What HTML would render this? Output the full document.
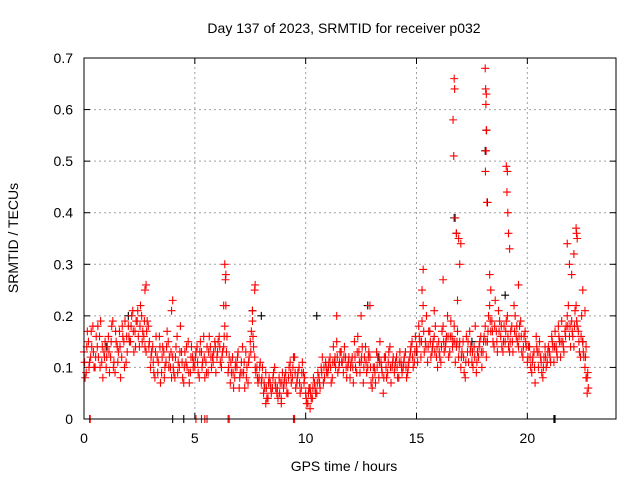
<!DOCTYPE html>
<html><head><meta charset="utf-8"><style>
body{margin:0;background:#fff}
svg{display:block;font-family:"Liberation Sans",sans-serif}
</style></head><body>
<svg id="chart" width="640" height="480">
<rect width="640" height="480" fill="#fff"/>
<text x="344" y="33" text-anchor="middle" font-size="14">Day 137 of 2023, SRMTID for receiver p032</text>
<text x="344" y="471" text-anchor="middle" font-size="14">GPS time / hours</text>
<text x="18" y="238" text-anchor="middle" font-size="14" transform="rotate(-90 18 238)">SRMTID / TECUs</text>
<g id="grid"></g>
<g id="ticks"></g>
<g id="marks"></g>
<rect x="84" y="58" width="532" height="361" fill="none" stroke="#000" stroke-width="1"/>
</svg>
<script>
const xTicks=[0,5,10,15,20];
const yTicks=[0,0.1,0.2,0.3,0.4,0.5,0.6,0.7];
const yTickLabels=["0","0.1","0.2","0.3","0.4","0.5","0.6","0.7"];
const seriesA=[.13,.09,.15,.12,.18,.10,.14,.16,.11,.13,
.10,.16,.12,.19,.09,.14,.17,.12,.15,.11,
.18,.15,.21,.17,.19,.14,.20,.16,.13,.18,
.10,.14,.08,.12,.16,.09,.13,.11,.15,.10,
.12,.08,.16,.10,.13,.07,.11,.15,.09,.12,
.10,.14,.08,.13,.16,.11,.09,.14,.12,.15,
.12,.16,.10,.14,.22,.09,.07,.12,.08,.10,
.06,.11,.09,.13,.07,.15,.19,.12,.10,.08,
.07,.05,.09,.04,.07,.06,.10,.05,.08,.04,
.06,.09,.05,.11,.08,.12,.07,.10,.06,.09,
.05,.03,.06,.04,.07,.05,.08,.10,.07,.11,
.09,.12,.08,.11,.15,.10,.13,.09,.12,.10,
.08,.12,.15,.09,.13,.11,.07,.14,.10,.12,
.06,.10,.13,.08,.11,.05,.12,.09,.14,.10,
.09,.12,.08,.11,.10,.13,.09,.12,.15,.11,
.14,.18,.12,.22,.15,.11,.17,.13,.16,.12,
.15,.11,.18,.14,.20,.13,.16,.18,.14,.12,
.10,.15,.08,.13,.17,.11,.14,.09,.12,.16,
.13,.18,.15,.22,.19,.14,.17,.21,.16,.13,
.15,.20,.13,.18,.22,.16,.14,.19,.12,.17,
.11,.14,.09,.13,.16,.10,.12,.08,.14,.11,
.13,.16,.11,.14,.18,.12,.15,.17,.20,.16,
.19,.14,.22,.17,.12,.15,.10,.08];
const seriesB=[.08,.17,.11,.14,.10,.16,.12,.19,.08,.15,
.14,.09,.18,.11,.15,.13,.08,.16,.19,.13,
.15,.20,.13,.19,.16,.22,.17,.14,.19,.15,
.13,.09,.16,.11,.07,.14,.10,.17,.12,.08,
.09,.14,.11,.18,.08,.13,.10,.07,.14,.11,
.13,.09,.15,.11,.08,.14,.16,.10,.13,.09,
.15,.11,.13,.18,.16,.12,.09,.06,.11,.13,
.09,.14,.06,.10,.12,.17,.14,.09,.07,.11,
.10,.06,.04,.08,.05,.09,.06,.04,.07,.09,
.08,.05,.10,.07,.12,.06,.09,.05,.11,.08,
.03,.06,.04,.08,.05,.09,.06,.12,.08,.09,
.11,.07,.14,.10,.09,.13,.11,.14,.08,.12,
.11,.07,.10,.16,.09,.14,.12,.09,.13,.07,
.10,.07,.12,.15,.09,.12,.08,.13,.07,.12,
.11,.08,.13,.09,.12,.08,.11,.14,.10,.16,
.11,.15,.19,.13,.20,.17,.12,.15,.18,.10,
.12,.17,.13,.16,.12,.19,.15,.11,.17,.15,
.13,.09,.16,.11,.14,.10,.18,.13,.15,.10,
.16,.12,.20,.17,.15,.23,.13,.19,.14,.18,
.19,.14,.17,.13,.20,.15,.18,.13,.16,.14,
.14,.10,.12,.07,.13,.15,.09,.12,.10,.14,
.11,.14,.17,.12,.15,.19,.13,.18,.22,.14,
.16,.21,.18,.13,.20,.12,.14,.06];
const seriesC=[.11,.14,.10,.17,.13,.12,.18,.10,.14,.12,
.12,.13,.15,.10,.17,.11,.14,.18,.10,.16,
.16,.18,.17,.14,.21,.18,.15,.19,.17,.14,
.12,.11,.13,.09,.14,.12,.08,.14,.10,.13,
.10,.12,.09,.13,.11,.10,.14,.09,.12,.10,
.12,.11,.13,.10,.12,.09,.13,.12,.11,.14,
.13,.14,.12,.16,.13,.10,.11,.09,.10,.12,
.08,.09,.11,.08,.11,.13,.16,.10,.08,.10,
.08,.07,.06,.07,.06,.08,.07,.06,.05,.07,
.07,.07,.08,.09,.10,.09,.08,.07,.09,.07,
.04,.05,.05,.06,.06,.07,.07,.09,.10,.10,
.10,.10,.11,.12,.12,.11,.11,.12,.10,.11,
.10,.10,.12,.13,.11,.12,.10,.11,.12,.10,
.08,.09,.10,.11,.10,.08,.10,.11,.10,.11,
.10,.10,.11,.10,.11,.10,.10,.13,.12,.13,
.13,.16,.15,.17,.14,.14,.15,.14,.13,.14,
.13,.14,.15,.15,.16,.16,.14,.15,.15,.14,
.12,.12,.11,.15,.13,.13,.12,.11,.14,.13,
.15,.15,.17,.19,.17,.18,.15,.17,.18,.15,
.17,.16,.15,.15,.17,.18,.16,.16,.14,.15,
.12,.12,.11,.10,.14,.13,.11,.10,.12,.13,
.12,.15,.14,.13,.16,.15,.14,.16,.18,.18,
.17,.18,.19,.15,.16,.13,.12,.09];
const spikeTimes=[2.8,2.75,4.0,3.95,6.35,6.4,6.3,6.38,7.6,7.7,7.72,11.4,12.5,12.9,15.3,15.25,15.8,16.2,16.65,16.7,16.72,16.68,16.75,16.8,16.9,17.0,16.95,16.85,18.1,18.12,18.15,18.13,18.16,18.14,18.11,18.18,18.3,18.35,19.05,19.1,19.08,19.12,19.15,19.2,19.6,21.8,21.9,22.0,22.2,22.22,22.25,22.1,22.5,22.6,22.7,22.65,8.2,10.2,8.9];
const spikeValues=[.26,.25,.23,.21,.30,.28,.22,.27,.21,.25,.26,.20,.20,.22,.29,.25,.21,.27,.58,.66,.64,.51,.39,.36,.35,.34,.30,.23,.68,.64,.63,.61,.56,.52,.48,.42,.28,.25,.49,.48,.44,.40,.36,.33,.26,.34,.30,.28,.37,.36,.35,.32,.25,.21,.05,.08,.03,.02,.03];
const zeroTimes=[0.25,0.28,5.05,5.3,5.45,5.55,6.5,6.55,9.45,9.5];
const blackTimes=[16.7,16.8,18.2,18.1,18.15,10.5,12.8,22.5,8,7.6,2,19,4,4.5,21.2,21.25,15,17.5,1,13.3];
const blackValues=[.39,.36,.42,.52,.56,.2,.22,.15,.2,.21,.2,.24,0,0,0,0,.13,.15,.14,.12];

const X0=84,X1=616,Y0=419,Y1=58,XMAX=24,YMAX=0.7;
const xs=t=>X0+(X1-X0)*t/XMAX;
const ys=v=>Y0-(Y0-Y1)*v/YMAX;
const NS="http://www.w3.org/2000/svg";
const grid=document.getElementById('grid'),ticks=document.getElementById('ticks'),marks=document.getElementById('marks');
function mk(tag,attrs,parent){const e=document.createElementNS(NS,tag);for(const k in attrs)e.setAttribute(k,attrs[k]);parent.appendChild(e);return e;}
xTicks.forEach(t=>{const x=xs(t);
 if(t>0){const g=mk('line',{x1:x,x2:x,y1:Y0,y2:Y1,stroke:'#a0a0a0','stroke-dasharray':'2,3'},grid);
 
 }
 mk('line',{x1:x,x2:x,y1:Y0,y2:Y0-6,stroke:'#000'},ticks);mk('line',{x1:x,x2:x,y1:Y1,y2:Y1+6,stroke:'#000'},ticks);
 const l=mk('text',{x:x,y:443,'text-anchor':'middle','font-size':'14'},ticks);l.textContent=t;
 
 });
yTicks.forEach((v,i)=>{const y=ys(v);
 if(i>0&&i<yTicks.length-1){const g=mk('line',{x1:X0,x2:X1,y1:y,y2:y,stroke:'#a0a0a0','stroke-dasharray':'2,3'},grid);
 
 }
 mk('line',{x1:X0,x2:X0+6,y1:y,y2:y,stroke:'#000'},ticks);mk('line',{x1:X1,x2:X1-6,y1:y,y2:y,stroke:'#000'},ticks);
 const l=mk('text',{x:73,y:y+5,'text-anchor':'end','font-size':'14'},ticks);l.textContent=yTickLabels[i];
 
 });
function plus(t,v,color){const x=xs(t),y=ys(v);
 const p=mk('path',{d:`M${x-4} ${y}H${x+4}M${x} ${y-4}V${y+4}`,stroke:color,'stroke-width':'1.1',fill:'none'},marks);
 
 }
blackTimes.forEach((t,i)=>plus(t,blackValues[i],'#000'));
seriesA.forEach((v,i)=>plus(i*0.1,v,'#f00'));
seriesB.forEach((v,i)=>plus(i*0.1+0.05,v,'#f00'));
seriesC.forEach((v,i)=>plus(i*0.1+0.025,v,'#f00'));
spikeTimes.forEach((t,i)=>plus(t,spikeValues[i],'#f00'));
zeroTimes.forEach(t=>plus(t,0,'#f00'));
</script>
</body></html>
